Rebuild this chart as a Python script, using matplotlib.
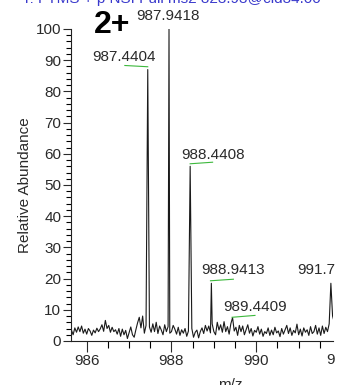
import numpy as np
import matplotlib
matplotlib.use('Agg')
import matplotlib.pyplot as plt

plt.rcParams['font.family'] = ['Liberation Sans', 'DejaVu Sans']

# baseline noise, sampled every 0.04 m/z from 985.64
mz_start = 985.64
mz_step = 0.04
noise = [
    3.5, 2.0, 4.2, 2.8, 4.5, 3.0, 4.8, 2.5, 3.8, 2.2,
    4.0, 3.2, 1.8, 3.5, 2.6, 4.1, 3.0, 3.9, 5.2, 3.1,
    6.6, 4.0, 5.0, 2.8, 4.4, 3.0, 3.6, 2.2, 4.0, 1.5,
    3.8, 2.0, 3.4, 0.8, 2.6, 4.5, 2.0, 1.2, 3.6, 5.8,
    7.6, 4.2, 8.0, 2.5, 5.0, 3.0, 4.5, 2.8, 5.5, 3.0,
    6.0, 2.4, 4.8, 3.5, 2.0, 5.2, 3.0, 4.6, 2.5, 3.0,
    5.0, 3.8, 2.2, 4.4, 1.8, 3.6, 2.5, 4.0, 1.5, 3.2,
    2.0, 4.0, 1.2, 2.8, 3.5, 1.0, 3.0, 4.2, 2.4, 5.0,
    3.2, 4.8, 2.6, 5.5, 3.0, 2.0, 6.0, 3.5, 5.2, 2.8,
    6.2, 3.0, 4.6, 2.2, 5.5, 6.5, 3.2, 4.4, 1.8, 5.0,
    3.0, 4.8, 2.0, 3.6, 5.2, 2.5, 4.0, 1.6, 3.4, 2.8,
    4.6, 2.2, 3.8, 1.5, 3.0, 2.4, 4.2, 1.8, 3.5, 2.0,
    4.4, 2.6, 3.2, 1.4, 4.0, 2.2, 3.6, 5.0, 2.4, 4.2,
    1.8, 3.4, 2.6, 5.4, 2.0, 3.8, 1.6, 4.2, 2.8, 3.6,
    1.8, 4.6, 2.4, 3.0, 5.0, 2.2, 4.2, 1.8, 4.8, 2.4,
    4.4, 3.0, 5.5, 4.0, 8.0, 6.0,
]

# isotope peaks
peak_mz = [987.4404, 987.9418, 988.4408, 988.9413, 989.4409, 991.76]
peak_int = [87.0, 100.0, 56.0, 18.5, 7.5, 18.5]
peak_labels = ['987.4404', '987.9418', '988.4408', '988.9413', '989.4409', '991.7']
# label anchor (center x, bottom y) in data units
label_x = [986.88, 987.92, 988.97, 989.46, 989.97, 991.42]
label_y = [88.7, 102.0, 57.5, 20.4, 8.65, 20.4]
# green connector segments (x0, y0, x1, y1)
conn = [
    (986.90, 88.3, 987.44, 87.9),
    (988.44, 56.8, 988.97, 57.3),
    (988.92, 19.3, 989.46, 19.8),
    (989.43, 7.6, 989.97, 8.2),
]

noise_mz = mz_start + mz_step * np.arange(len(noise))
keep = [all(abs(m - p) > 0.015 for p in peak_mz) for m in noise_mz]
xs = list(noise_mz[keep]) + peak_mz
ys = list(np.array(noise)[keep]) + peak_int
order = np.argsort(xs)
xs = np.array(xs)[order]
ys = np.array(ys)[order]

fig = plt.figure(figsize=(3.51, 3.85), dpi=100)
ax = fig.add_axes([0.2023, 0.1143, 0.7464, 0.8104])

ax.plot(xs, ys, color='#1a1a1a', lw=0.8)

for x0, y0, x1, y1 in conn:
    ax.plot([x0, x1], [y0, y1], color='#3cb83c', lw=0.8, clip_on=False)

txt_color = '#2a2a2a'
for lx, ly, lab in zip(label_x, label_y, peak_labels):
    ax.text(lx, ly, lab, ha='center', va='bottom', fontsize=11, color=txt_color, clip_on=False)

ax.text(986.59, 96.5, '2+', ha='center', va='bottom', fontsize=23, fontweight='bold', color='black', clip_on=False)

ax.set_xlim(985.63, 991.81)
ax.set_ylim(0, 100)
ax.spines['top'].set_visible(False)
ax.spines['right'].set_visible(False)
ax.spines['left'].set_bounds(0, 100)
for s in ['left', 'bottom']:
    ax.spines[s].set_color('#222222')
    ax.spines[s].set_linewidth(0.8)

ax.set_xticks([986, 988, 990])
ax.set_xticks(np.arange(986.5, 991.8, 0.5), minor=True)
ax.set_yticks(np.arange(0, 101, 10))
ax.set_yticks(np.arange(0, 101, 2), minor=True)
ax.tick_params(axis='x', which='major', length=7.7, width=0.8, pad=1.5, labelsize=11, colors=txt_color)
ax.tick_params(axis='x', which='minor', length=5, width=0.8)
ax.tick_params(axis='y', which='major', length=6, width=0.8, pad=1, labelsize=11, colors=txt_color)
ax.tick_params(axis='y', which='minor', length=3.6, width=0.8)

# truncated tick label at right edge
ax.text(991.74, -3.9, '9', ha='center', va='top', fontsize=11, color=txt_color, clip_on=False)

ax.set_ylabel('Relative Abundance', fontsize=11, color=txt_color)
ax.yaxis.set_label_coords(-39 / 262, 0.5)
fig.text(230 / 351, 1 - 378 / 385, 'm/z', ha='center', va='top', fontsize=11, color=txt_color)

# scan header, cut off at the top
fig.text(171 / 351, 1 - 3 / 385, 'T: FTMS + p NSI Full ms2 823.93@cid34.00',
         ha='center', va='baseline', fontsize=11, color='#3a3acc')

fig.savefig('out.png', dpi=100)
